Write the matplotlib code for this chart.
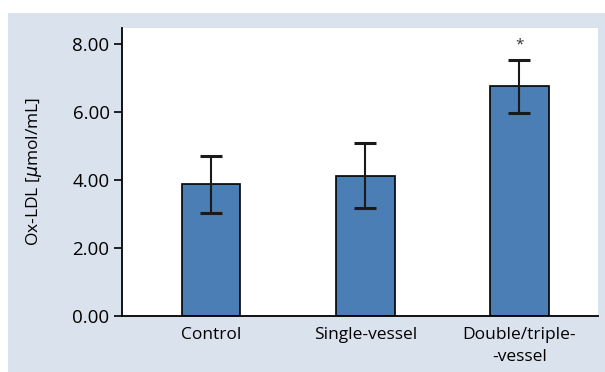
import numpy as np
import matplotlib.pyplot as plt
from matplotlib.patches import Rectangle

categories = ['Control', 'Single-vessel', 'Double/triple-\n-vessel']
means = [3.87, 4.12, 6.75]
errors = [0.83, 0.95, 0.78]
yticks = [0, 2, 4, 6, 8]

plt.rcParams['font.family'] = ['Open Sans', 'DejaVu Sans']

fig = plt.figure(figsize=(6.05, 3.72), dpi=100)
fig.patches.append(Rectangle((8/605, 0), 1, (372-13)/372, transform=fig.transFigure,
                             facecolor='#dae3ed', edgecolor='none', zorder=-1))
ax = fig.add_axes([122/605, 1-316/372, (598-122)/605, (316-28)/372])
ax.set_facecolor('white')

x = np.arange(len(categories))
ax.bar(x, means, width=0.38, color='#4a7eb4', edgecolor='black', linewidth=1.2, zorder=2)
ax.errorbar(x, means, yerr=errors, fmt='none', ecolor='#1a1a1a', elinewidth=1.5,
            capsize=8, capthick=2.2, zorder=3)
ax.text(2, means[2] + errors[2] + 0.2, '*', ha='center', va='bottom', fontsize=11,
        color='#333333')

ax.set_xlim(-0.578, 2.51)
ax.set_ylim(0, 8.46)
ax.set_xticks(x)
ax.set_xticklabels(categories, fontsize=12.5, linespacing=1.45)
ax.tick_params(axis='x', length=0, pad=8)
ax.set_yticks(yticks)
ax.set_yticklabels([f'{v:.2f}' for v in yticks], fontsize=13.5)
ax.tick_params(axis='y', length=6, width=1.2, direction='out', pad=3)
ax.set_ylabel(r'Ox-LDL [$\mu$mol/mL]', fontsize=12.5)
ax.yaxis.set_label_coords(-0.164, 0.5)
for s in ['top', 'right']:
    ax.spines[s].set_visible(False)
for s in ['left', 'bottom']:
    ax.spines[s].set_linewidth(1.3)

fig.savefig('out.png', dpi=100)
